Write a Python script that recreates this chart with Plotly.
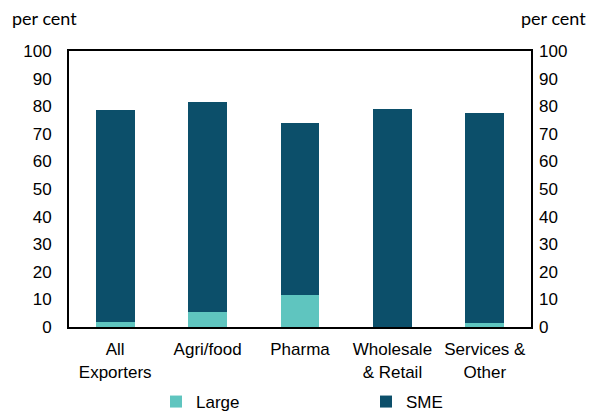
import plotly.graph_objects as go

categories = ["All<br>Exporters", "Agri/food", "Pharma", "Wholesale<br>& Retail", "Services &<br>Other"]
large = [1.7, 5.5, 11.5, 0.0, 1.6]
sme = [76.8, 75.9, 62.4, 79.1, 76.0]
tick_vals = [0, 10, 20, 30, 40, 50, 60, 70, 80, 90, 100]

LARGE_C = "#5fc5bf"
SME_C = "#0c4f6a"
FONT = "Liberation Sans, Arial, sans-serif"

fig = go.Figure()
fig.add_trace(go.Bar(x=categories, y=large, name="Large", marker_color=LARGE_C, marker_line_width=0))
fig.add_trace(go.Bar(x=categories, y=sme, name="SME", marker_color=SME_C, marker_line_width=0))
fig.add_trace(go.Scatter(x=categories, y=[None]*5, yaxis="y2", showlegend=False, hoverinfo="skip"))

axis_font = dict(family=FONT, size=17, color="#000")
unit_font = dict(family="Lato, sans-serif", size=18, color="#000")
fig.update_layout(
    width=592, height=414,
    margin=dict(l=69, r=61, t=51, b=87, autoexpand=False),
    barmode="stack", bargap=0.58,
    plot_bgcolor="white", paper_bgcolor="white",
    font=axis_font,
    xaxis=dict(showline=True, linecolor="black", linewidth=2, mirror=True, ticks="",
               tickfont=axis_font, showgrid=False, automargin=False, ticklabelstandoff=6),
    yaxis=dict(range=[0, 100], tickvals=tick_vals, showgrid=False, zeroline=False,
               showline=True, linecolor="black", linewidth=2, mirror=True, ticks="",
               ticklabelstandoff=12, tickfont=axis_font, automargin=False),
    yaxis2=dict(range=[0, 100], tickvals=tick_vals, overlaying="y", side="right",
                showgrid=False, zeroline=False, showline=False, ticks="",
                ticklabelstandoff=7, tickfont=axis_font, automargin=False),
    legend=dict(orientation="h", xref="container", yref="container",
                x=156/592, xanchor="left", y=1-384/414, yanchor="top",
                traceorder="normal",
                entrywidth=165, entrywidthmode="pixels", itemwidth=30,
                font=dict(family=FONT, size=17, color="#000")),
    annotations=[
        dict(text="per cent", xref="paper", yref="paper", x=-0.1277, y=1.0725, xanchor="left",
             yanchor="bottom", showarrow=False, font=unit_font),
        dict(text="per cent", xref="paper", yref="paper", x=1.1234, y=1.0725, xanchor="right",
             yanchor="bottom", showarrow=False, font=unit_font),
    ],
)
fig.write_html("out.html", post_script="document.body.style.margin='0';",
               config={"displayModeBar": False})
